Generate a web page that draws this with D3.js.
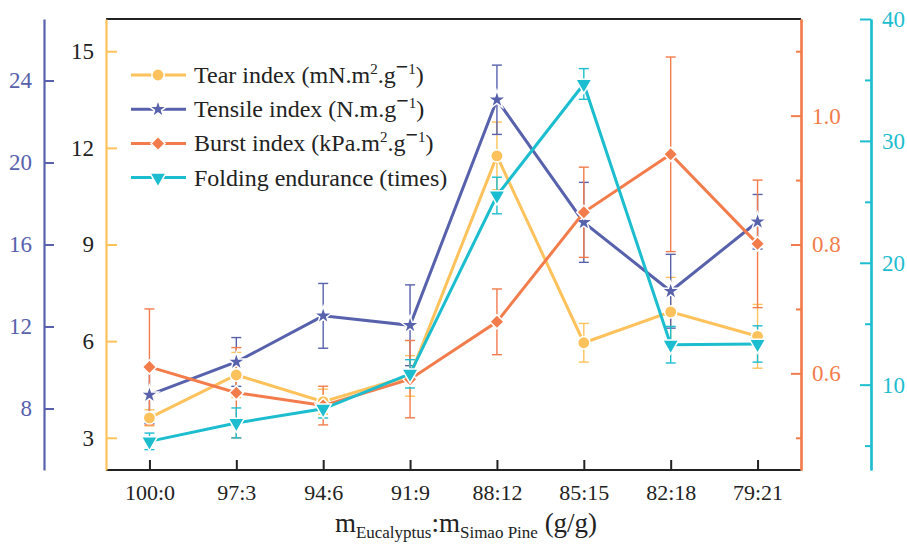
<!DOCTYPE html>
<html>
<head>
<meta charset="utf-8">
<script src="https://cdn.jsdelivr.net/npm/d3@7"></script>
<style>
  body { margin: 0; background: #fff; }
</style>
</head>
<body>
<div id="chart"></div>
<script>
// categories (mass ratio eucalyptus : simao pine)
const categories = ["100:0", "97:3", "94:6", "91:9", "88:12", "85:15", "82:18", "79:21"];

// series values, with error bar half widths
const tearIndex = [3.62, 4.95, 4.12, 4.92, 11.75, 5.95, 6.91, 6.15];
const tearErr = [0.25, 0.70, 0.39, 0.63, 1.05, 0.60, 1.07, 0.99];
const tensileIndex = [8.66, 10.27, 12.52, 12.06, 23.06, 17.08, 13.72, 17.11];
const tensileErr = [1.38, 1.19, 1.58, 1.97, 1.69, 1.95, 1.80, 1.33];
const burstIndex = [0.610, 0.570, 0.550, 0.591, 0.680, 0.850, 0.940, 0.801];
const burstErr = [0.090, 0.070, 0.030, 0.060, 0.051, 0.070, 0.151, 0.099];
const foldingEndurance = [5.35, 6.86, 8.02, 10.89, 25.52, 34.67, 13.28, 13.34];
const foldingErr = [0.68, 1.23, 0.75, 1.16, 1.50, 1.26, 1.50, 1.49];

// tick labels
const tensileTicks = [8, 12, 16, 20, 24];
const tearTicks = [3, 6, 9, 12, 15];
const burstTicks = [0.6, 0.8, 1.0];
const burstMinor = [0.5, 0.7, 0.9, 1.1];
const foldingTicks = [10, 20, 30, 40];
const foldingMinor = [5, 15, 25, 35];

const W = 907, H = 546;
const plotLeft = 106, plotRight = 801, plotTop = 19, plotBottom = 470;
const FONT = "'Liberation Serif', 'Times New Roman', 'DejaVu Serif', serif";

const colors = {
    tear: "#FEC25C",
    tensile: "#5761AC",
    burst: "#F27C4B",
    folding: "#1CBDCF"
};

const svg = d3.select("#chart").append("svg")
    .attr("width", W)
    .attr("height", H)
    .attr("font-family", FONT);

svg.append("rect").attr("width", W).attr("height", H).attr("fill", "#fff");

// scales
const x = d3.scalePoint().domain(categories).range([plotLeft, plotRight]).padding(0.5);
const yTear = d3.scaleLinear().domain([2, 16]).range([plotBottom, plotTop]);
const yTensile = d3.scaleLinear().domain([5, 27]).range([plotBottom, plotTop]);
const yBurst = d3.scaleLinear().domain([0.45, 1.15]).range([plotBottom, plotTop]);
const yFolding = d3.scaleLinear().domain([3, 40]).range([plotBottom, plotTop]);

const series = [
    {key: "tear", values: tearIndex, err: tearErr, y: yTear, symbol: "circle"},
    {key: "tensile", values: tensileIndex, err: tensileErr, y: yTensile, symbol: "star"},
    {key: "burst", values: burstIndex, err: burstErr, y: yBurst, symbol: "diamond"},
    {key: "folding", values: foldingEndurance, err: foldingErr, y: yFolding, symbol: "triangle"}
];

function symbolPath(type) {
    if (type === "circle") return d3.symbol(d3.symbolCircle, 120)();
    if (type === "star") return d3.symbol(d3.symbolStar, 105)();
    if (type === "diamond") return d3.symbol(d3.symbolSquare, 100)();
    return d3.symbol(d3.symbolTriangle, 115)();
}
function symbolTransform(type, px, py) {
    if (type === "diamond") return `translate(${px},${py}) rotate(45)`;
    if (type === "triangle") return `translate(${px},${py}) rotate(180)`;
    return `translate(${px},${py})`;
}

// frame: top black line
svg.append("line").attr("x1", plotLeft).attr("x2", plotRight).attr("y1", plotTop).attr("y2", plotTop)
    .attr("stroke", "#222").attr("stroke-width", 2);

// x axis
const xAxis = d3.axisBottom(x).tickSizeInner(-10).tickSizeOuter(0).tickPadding(14);
const gx = svg.append("g").attr("transform", `translate(0,${plotBottom})`).call(xAxis);
gx.attr("font-family", FONT);
gx.select(".domain").attr("stroke", "#222").attr("stroke-width", 2.2)
    .attr("d", `M${plotLeft},0H${plotRight}`);
gx.selectAll(".tick line").attr("stroke", "#222").attr("stroke-width", 2);
gx.selectAll(".tick text").attr("font-size", 22).attr("fill", "#222");

// outer left axis (tensile)
const gTens = svg.append("g").attr("transform", "translate(44,0)")
    .call(d3.axisLeft(yTensile).tickValues(tensileTicks).tickSizeInner(-10).tickSizeOuter(0).tickPadding(12));
// inner left axis (tear)
const gTear = svg.append("g").attr("transform", `translate(${plotLeft},0)`)
    .call(d3.axisLeft(yTear).tickValues(tearTicks).tickSizeInner(-11).tickSizeOuter(0).tickPadding(12));
// inner right axis (burst)
const gBurst = svg.append("g").attr("transform", `translate(${plotRight},0)`)
    .call(d3.axisRight(yBurst).tickValues(burstTicks).tickFormat(d3.format(".1f")).tickSizeInner(-10).tickSizeOuter(0).tickPadding(11));
const gBurstMinor = svg.append("g").attr("transform", `translate(${plotRight},0)`)
    .call(d3.axisRight(yBurst).tickValues(burstMinor).tickFormat("").tickSizeInner(-5).tickSizeOuter(0));
// outer right axis (folding)
const gFold = svg.append("g").attr("transform", "translate(871,0)")
    .call(d3.axisRight(yFolding).tickValues(foldingTicks).tickSizeInner(-11).tickSizeOuter(0).tickPadding(11));
const gFoldMinor = svg.append("g").attr("transform", "translate(871,0)")
    .call(d3.axisRight(yFolding).tickValues(foldingMinor).tickFormat("").tickSizeInner(-6).tickSizeOuter(0));

function styleAxis(g, color, textColor) {
    g.attr("font-family", FONT);
    g.select(".domain").attr("stroke", color).attr("stroke-width", 2.2);
    g.selectAll(".tick line").attr("stroke", color).attr("stroke-width", 2);
    g.selectAll(".tick text").attr("font-size", 23).attr("fill", textColor);
}
styleAxis(gTens, colors.tensile, colors.tensile);
styleAxis(gTear, colors.tear, "#222");
styleAxis(gBurst, colors.burst, colors.burst);
styleAxis(gBurstMinor, colors.burst, colors.burst);
styleAxis(gFold, colors.folding, colors.folding);
styleAxis(gFoldMinor, colors.folding, colors.folding);

// error bars
const errLayer = svg.append("g");
series.forEach(s => {
    const g = errLayer.append("g").attr("stroke", colors[s.key]).attr("stroke-width", 1.4).attr("fill", "none");
    s.values.forEach((v, i) => {
        const px = x(categories[i]);
        const y1 = s.y(v + s.err[i]), y2 = s.y(v - s.err[i]);
        g.append("line").attr("x1", px).attr("x2", px).attr("y1", y1).attr("y2", y2);
        g.append("line").attr("x1", px - 5).attr("x2", px + 5).attr("y1", y1).attr("y2", y1);
        g.append("line").attr("x1", px - 5).attr("x2", px + 5).attr("y1", y2).attr("y2", y2);
    });
});

// lines and markers
series.forEach(s => {
    const line = d3.line()
        .x((d, i) => x(categories[i]))
        .y(d => s.y(d));
    svg.append("path")
        .datum(s.values)
        .attr("fill", "none")
        .attr("stroke", colors[s.key])
        .attr("stroke-width", 3)
        .attr("d", line);
    svg.append("g").selectAll("path")
        .data(s.values)
        .join("path")
        .attr("d", symbolPath(s.symbol))
        .attr("transform", (d, i) => symbolTransform(s.symbol, x(categories[i]), s.y(d)))
        .attr("fill", colors[s.key])
        .attr("stroke", "#fff")
        .attr("stroke-width", 1.5);
});

// legend
const legendRows = [
    {key: "tear", symbol: "circle", parts: [["Tear index (mN.m"], ["2", "sup"], [".g"], ["\u2212", "supm"], ["1", "sup"], [")"]]},
    {key: "tensile", symbol: "star", parts: [["Tensile index (N.m.g"], ["\u2212", "supm"], ["1", "sup"], [")"]]},
    {key: "burst", symbol: "diamond", parts: [["Burst index (kPa.m"], ["2", "sup"], [".g"], ["\u2212", "supm"], ["1", "sup"], [")"]]},
    {key: "folding", symbol: "triangle", parts: [["Folding endurance (times)"]]}
];
const legend = svg.append("g");
legendRows.forEach((r, i) => {
    const ly = 75 + i * 34.2;
    legend.append("line").attr("x1", 131).attr("x2", 186).attr("y1", ly).attr("y2", ly)
        .attr("stroke", colors[r.key]).attr("stroke-width", 3);
    legend.append("path").attr("d", symbolPath(r.symbol))
        .attr("transform", symbolTransform(r.symbol, 158, ly))
        .attr("fill", colors[r.key]).attr("stroke", "#fff").attr("stroke-width", 1.5);
    const t = legend.append("text").attr("x", 194).attr("y", ly + 8)
        .attr("font-size", 24).attr("fill", "#222");
    let shifted = false;
    r.parts.forEach(([txt, kind]) => {
        const sp = t.append("tspan").text(txt);
        const isSup = kind === "sup" || kind === "supm";
        if (isSup && !shifted) { sp.attr("dy", -9); shifted = true; }
        if (!isSup && shifted) { sp.attr("dy", 9); shifted = false; }
        if (kind === "sup") sp.attr("font-size", 15);
        if (kind === "supm") sp.attr("font-size", 22).attr("font-weight", "bold");
    });
});

// x axis title with subscripts
const title = svg.append("text").attr("x", 466).attr("y", 532)
    .attr("text-anchor", "middle").attr("font-size", 27).attr("fill", "#222");
title.append("tspan").text("m");
title.append("tspan").text("Eucalyptus").attr("font-size", 17).attr("dy", 6);
title.append("tspan").text(":m").attr("dy", -6);
title.append("tspan").text("Simao Pine").attr("font-size", 17).attr("dy", 6);
title.append("tspan").text(" (g/g)").attr("dy", -6);
</script>
</body>
</html>
